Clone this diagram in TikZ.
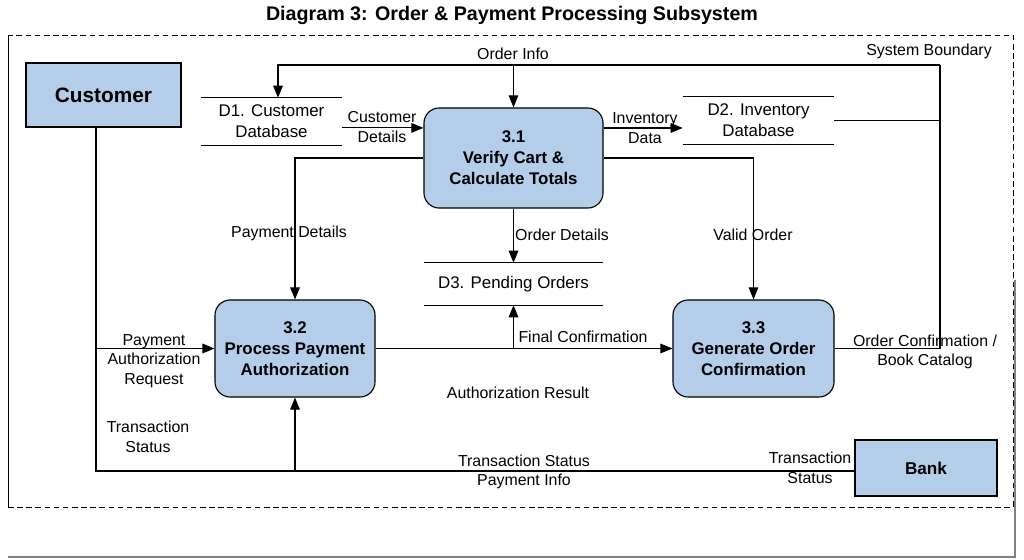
\documentclass[tikz,border=0pt]{standalone}
\usepackage{fontspec}
\setmainfont{Liberation Sans}
\usetikzlibrary{arrows.meta}
\definecolor{procblue}{RGB}{180,205,232}

\begin{document}
\begin{tikzpicture}[x=0.025cm,y=-0.025cm,
    flow/.style ={line width=0.8pt,-{Triangle[length=3mm,width=2.4mm]}},
    wire/.style ={line width=0.8pt},
    process/.style ={rectangle, rounded corners=0.38cm, draw, line width=0.8pt,
      fill=procblue, align=center, font=\fontsize{12}{15}\selectfont\bfseries},
    entity/.style ={rectangle, draw, line width=0.8pt, fill=procblue,
      font=\bfseries},
    store/.style ={rectangle, align=center, inner sep=0pt,
      font=\fontsize{12}{15}\selectfont},
    lbl/.style ={align=center, inner sep=1pt,
      font=\fontsize{11.3}{14}\selectfont}]
   \useasboundingbox (0,0) rectangle (1024,559);

   % boundary
   \draw[line width=0.7pt,dash pattern=on 4pt off 2.5pt]
     (8,507) -- (1013,507) -- (1013,35) -- (8,35);
   \draw[line width=0.7pt] (8,35) -- (8,507);
   \draw[gray,line width=0.8pt] (1015,280) -- (1015,557) -- (8,557);

   \node[font=\fontsize{14}{16}\selectfont\bfseries] (title) at (512,15)
     {Diagram 3: Order \& Payment Processing Subsystem};
   \node[lbl] (sysb) at (929,51) {System Boundary};

   % entities and processes
   \node[entity,minimum width=3.875cm,minimum height=1.6cm,
     font=\fontsize{14.8}{16}\selectfont\bfseries] (cust) at (103.5,95) {Customer};
   \node[entity,minimum width=3.55cm,minimum height=1.4cm,
     font=\fontsize{12.2}{14}\selectfont\bfseries] (bank) at (926,468) {Bank};
   \node[process,minimum width=4.475cm,minimum height=2.5cm] (p31) at (513.5,158)
     {3.1\\Verify Cart \&\\Calculate Totals};
   \node[process,minimum width=4cm,minimum height=2.425cm] (p32) at (295,348.5)
     {3.2\\Process Payment\\Authorization};
   \node[process,minimum width=4.025cm,minimum height=2.425cm] (p33) at (753.5,348.5)
     {3.3\\Generate Order\\Confirmation};

   % data stores
   \node[store,minimum width=3.525cm,minimum height=1.175cm] (d1) at (271.5,121.5)
     {D1. Customer\\Database};
   \node[store,minimum width=3.775cm,minimum height=1.175cm] (d2) at (758.5,120.5)
     {D2. Inventory\\Database};
   \node[store,minimum width=4.475cm,minimum height=1.05cm] (d3) at (513.5,284)
     {D3. Pending Orders};
   \foreach \s in {d1,d2,d3}
     \draw[wire] (\s.north west) -- (\s.north east) (\s.south west) -- (\s.south east);

   % order info loop
   \coordinate (oiR) at (940,65);
   \coordinate (oiL) at (278,65);
   \draw[wire] (p33.east) -- (p33.east -| oiR) -- (oiR);
   \draw[flow] (oiR) -- (oiL) -- (oiL |- d1.north);
   \draw[flow] (p31.north |- oiR) -- (p31.north);
   \draw[wire] (d2.east) -- (d2.east -| oiR);

   \draw[flow] ([yshift=-0.16cm]d1.east) -- ([yshift=-0.16cm]d1.east -| p31.west);
   \draw[flow] ([yshift=0.75cm]p31.east) -- ([yshift=0.75cm]p31.east -| d2.west);
   \draw[flow] (p31.west) -| (p32.north);
   \draw[flow] (p31.east) -| (p33.north);
   \draw[flow] (p31.south) -- (d3.north);
   \draw[flow] (p32.east) -- (p33.west);
   \draw[flow] (p32.east -| d3.south) -- (d3.south);

   % customer and bank links
   \coordinate (cb) at (96,471);
   \draw[wire] (cust.south -| cb) -- (cb) -- (cb -| bank.west);
   \draw[flow] (cb |- p32.west) -- (p32.west);
   \draw[flow] (p32.south |- cb) -- (p32.south);

   % labels
   \node[lbl] (l1) at (513,54) {Order Info};
   \node[lbl] (l2) at (382,127) {Customer\\Details};
   \node[lbl] (l3) at (645,128) {Inventory\\Data};
   \node[lbl] (l4) at (289,233) {Payment Details};
   \node[lbl] (l5) at (562,235) {Order Details};
   \node[lbl] (l6) at (753,235) {Valid Order};
   \node[lbl] (l7) at (583,337) {Final Confirmation};
   \node[lbl] (l8) at (518,393) {Authorization Result};
   \node[lbl] (l9) at (154,361) {Payment\\Authorization\\Request};
   \node[lbl] (l10) at (925,352) {Order Confirmation /\\Book Catalog};
   \node[lbl] (l11) at (148,437) {Transaction\\Status};
   \node[lbl] (l12) at (524,461) {Transaction Status};
   \node[lbl] (l13) at (524,481) {Payment Info};
   \node[lbl] (l14) at (810,468) {Transaction\\Status};
 \end{tikzpicture}
\end{document}
